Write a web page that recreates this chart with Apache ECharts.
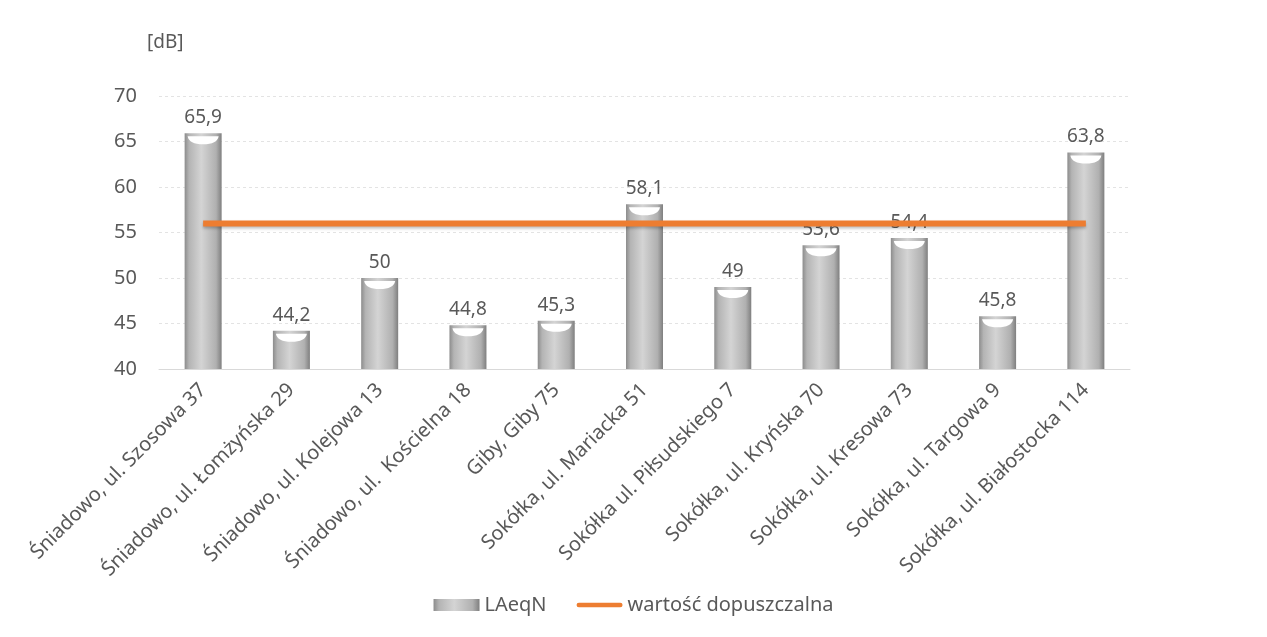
<!DOCTYPE html>
<html>
<head>
<meta charset="UTF-8">
<title>LAeqN</title>
<style type="text/css">
html, body {
	margin: 0;
	height: 100%;
	background: #ffffff;
}
#main {
	width: 1267px;
	height: 637px;
}
</style>
</head>
<body>
<div id="main"></div>
<script type="text/javascript" src="https://cdn.jsdelivr.net/npm/echarts@6/dist/echarts.min.js"></script>
<script type="text/javascript">
	// punkty pomiarowe
	var categories = [ 'Śniadowo, ul. Szosowa 37', 'Śniadowo, ul. Łomżyńska 29',
			'Śniadowo, ul. Kolejowa 13', 'Śniadowo, ul.  Kościelna 18',
			'Giby, Giby 75', 'Sokółka, ul. Mariacka 51',
			'Sokółka ul. Piłsudskiego 7', 'Sokółka, ul. Kryńska 70',
			'Sokółka, ul. Kresowa 73', 'Sokółka, ul. Targowa 9',
			'Sokółka, ul. Białostocka 114' ];
	// zmierzone LAeqN
	var laeqn = [ 65.9, 44.2, 50, 44.8, 45.3, 58.1, 49, 53.6, 54.4, 45.8, 63.8 ];
	// wartość dopuszczalna
	var limit = [ 56, 56, 56, 56, 56, 56, 56, 56, 56, 56, 56 ];
	var yTicks = [ 40, 45, 50, 55, 60, 65, 70 ];

	var textColor = '#595959';
	var font = 'Noto Sans';

	var barGradient = new echarts.graphic.LinearGradient(0, 0, 1, 0, [
		{ offset: 0, color: '#8c8c8c' },
		{ offset: 0.12, color: '#b4b4b4' },
		{ offset: 0.45, color: '#d4d4d4' },
		{ offset: 0.85, color: '#b0b0b0' },
		{ offset: 1, color: '#7f7f7f' } ]);

	var chart = echarts.init(document.getElementById('main'));
	var option = {
		backgroundColor : '#ffffff',
		textStyle : {
			fontFamily : font
		},
		graphic : [ {
			type : 'text',
			left : 147,
			top : 33,
			style : {
				text : '[dB]',
				fill : textColor,
				font : '19px "Noto Sans"'
			}
		} ],
		grid : {
			left : 159,
			right : 137,
			top : 96,
			bottom : 268
		},
		legend : {
			bottom : 17,
			left : 'center',
			itemGap : 30,
			itemWidth : 46,
			itemHeight : 12,
			textStyle : {
				color : textColor,
				fontSize : 20,
				fontFamily : font
			},
			data : [ {
				name : 'LAeqN',
				icon : 'rect'
			}, {
				name : 'wartość dopuszczalna',
				icon : 'path://M3,0 L57,0 A3,3 0 0 1 57,6 L3,6 A3,3 0 0 1 3,0 Z',
				itemStyle : { color : '#ED7D31' }
			} ]
		},
		xAxis : {
			type : 'category',
			data : categories,
			axisLine : {
				lineStyle : { color : '#d9d9d9' }
			},
			axisTick : { show : false },
			axisLabel : {
				rotate : 45,
				interval : 0,
				color : textColor,
				fontSize : 20,
				fontFamily : font,
				margin : 18
			}
		},
		yAxis : {
			type : 'value',
			min : yTicks[0],
			max : yTicks[yTicks.length - 1],
			interval : 5,
			axisLine : { show : false },
			axisTick : { show : false },
			axisLabel : {
				color : textColor,
				fontSize : 20,
				fontFamily : font,
				margin : 22
			},
			splitLine : {
				lineStyle : {
					color : '#e3e3e3',
					type : [ 3, 3 ]
				}
			}
		},
		series : [ {
			name : 'LAeqN',
			type : 'bar',
			data : laeqn,
			barWidth : 37,
			itemStyle : {
				color : barGradient
			},
			label : {
				show : true,
				position : 'top',
				distance : 6,
				color : textColor,
				fontSize : 19,
				fontFamily : font,
				formatter : function(p) {
					return String(p.value).replace('.', ',');
				}
			},
			z : 2
		}, {
			// biała "czapka" na górze słupka
			name : 'cap',
			type : 'pictorialBar',
			data : laeqn,
			symbol : 'path://M0,0 L40,0 Q38,10 20,10 Q2,10 0,0 Z',
			symbolSize : [ 31, 8 ],
			symbolPosition : 'end',
			symbolOffset : [ 0, 3 ],
			itemStyle : { color : '#ffffff' },
			silent : true,
			z : 3
		}, {
			name : 'wartość dopuszczalna',
			type : 'line',
			data : limit,
			symbol : 'none',
			lineStyle : {
				color : '#ED7D31',
				width : 6,
				shadowColor : 'rgba(0,0,0,0.25)',
				shadowBlur : 3,
				shadowOffsetY : 2
			},
			itemStyle : { color : '#ED7D31' },
			z : 4
		} ]
	};
	chart.setOption(option);
</script>
</body>
</html>
